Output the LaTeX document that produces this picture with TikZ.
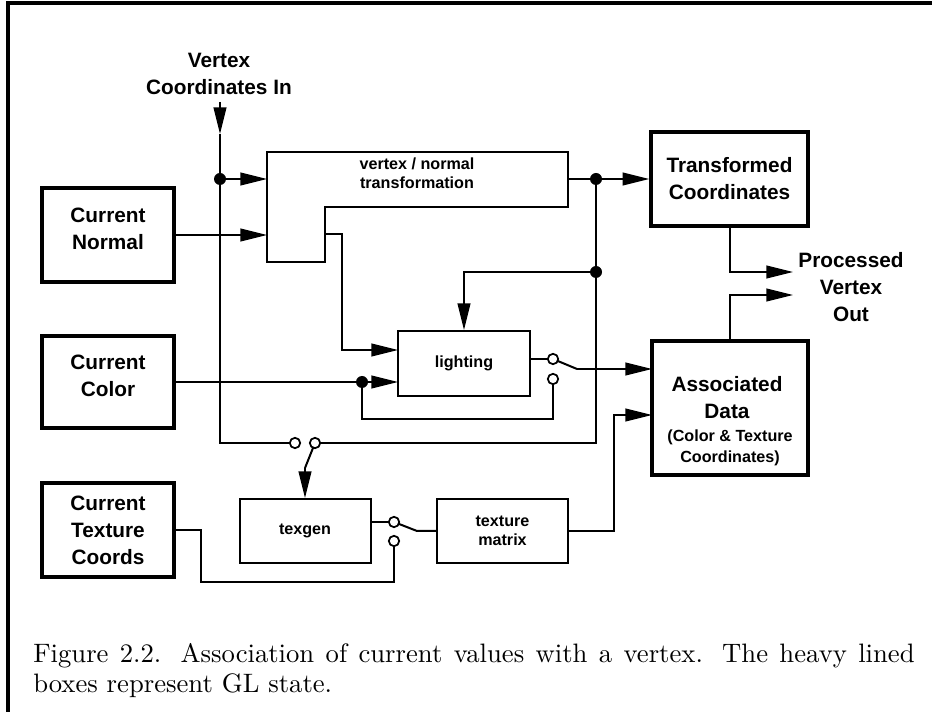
\documentclass[tikz,border=0pt]{standalone}
\usepackage{fontspec}
\newfontfamily\hv{Liberation Sans}
\newfontfamily\capfont{lmroman10-regular}[Extension=.otf]
\usetikzlibrary{arrows.meta}
\tikzset{
 big/.style={font=\hv\bfseries\fontsize{15.6pt}{20.25pt}\selectfont, align=center, inner sep=0pt},
 small/.style={font=\hv\bfseries\fontsize{12.1pt}{14.5pt}\selectfont, align=center, inner sep=0pt},
 smallwide/.style={font=\hv\bfseries\fontsize{12.1pt}{15.75pt}\selectfont, align=center, inner sep=0pt},
 state/.style={draw, line width=2.5pt, inner sep=0pt},
 proc/.style={draw, line width=1.5pt, inner sep=0pt, small},
 wire/.style={line width=1.5pt},
 arr/.style={wire, -{Triangle[length=20pt,width=9.5pt]}},
 dot/.style={circle, fill=black, inner sep=0pt, minimum size=9pt},
 term/.style={circle, draw, fill=white, line width=1.3pt, inner sep=0pt, minimum size=7.8pt},
}
\begin{document}
\begin{tikzpicture}[x=0.75pt,y=-0.75pt]
\useasboundingbox (0,0) rectangle (932,712);
\draw[line width=2.3pt] (8,712) -- (8,3) -- (932,3);

% state boxes
\node[state, minimum width=99pt, minimum height=70.5pt] (normal) at (108,235) {};
\node[big] (normalL) at (108,228.5) {Current\\Normal};
\node[state, minimum width=99pt, minimum height=69pt] (color) at (108,382) {};
\node[big] (colorL) at (108,376) {Current\\Color};
\node[state, big, minimum width=99pt, minimum height=70.5pt] (texc) at (108,530) {Current\\Texture\\Coords};
\node[state, big, minimum width=117.75pt, minimum height=70.5pt] (tcoord) at (729.5,179) {Transformed\\Coordinates};
\node[state, minimum width=117pt, minimum height=100.5pt] (assoc) at (730,408) {};
\node[big] (assocA) at (727,398) {Associated\\Data};
\node[smallwide] (assocB) at (730,447.5) {(Color \& Texture\\Coordinates)};

% processing boxes
\draw[wire] (267,152) -- (568,152) -- (568,207) -- (325,207) -- (325,262) -- (267,262) -- cycle;
\node[small] (xflabel) at (417,173) {vertex / normal\\transformation};
\node[proc, minimum width=99pt, minimum height=48.75pt] (light) at (464,363.5) {lighting};
\node[proc, minimum width=98.25pt, minimum height=48pt] (texgen) at (305,531) {texgen};
\node[proc, minimum width=98.25pt, minimum height=48pt] (texmat) at (502.5,531) {texture\\matrix};

\node[big] (vlabel) at (219,74) {Vertex\\Coordinates In};
\node[big] (plabel) at (851,287) {Processed\\Vertex\\Out};

% points
\coordinate (vin) at (220,102);
\coordinate (vtip) at (220,134);
\coordinate (xfin1) at (267,179);
\coordinate (xfin2) at (267,235);
\coordinate (xfout1) at (568,179);
\coordinate (xfout2) at (325,234);
\coordinate (bend1) at (342,234);
\coordinate (lin1) at (398,350);
\coordinate (pout1) at (793,272);
\coordinate (pout2) at (793,295);
\coordinate (lin2) at (398,382);
\coordinate (lout) at (530,359);
\coordinate (blade2) at (577,369);
\coordinate (ain1) at (652,369);
\coordinate (c419) at (362,419);
\coordinate (blade1) at (305,468);
\coordinate (tgout) at (370,522);
\coordinate (blade3) at (417,531);
\coordinate (tcb1) at (201,530);
\coordinate (tcb2) at (201,582);
\coordinate (tmb) at (614,531);
\coordinate (ain2) at (652,415);
\coordinate (pj1) at (220,179);
\coordinate (pj2) at (596,179);
\coordinate (pj3) at (596,272);
\coordinate (pj4) at (362,382);
\coordinate (ps1a) at (295,443);
\coordinate (ps1b) at (315,443);
\coordinate (ps2a) at (553,359);
\coordinate (ps2b) at (553,379);
\coordinate (ps3a) at (394,522);
\coordinate (ps3b) at (394,541);

% wires
\draw[arr] (vin) -- (vtip);
\draw[wire] (vtip) -- (pj1) |- (ps1a);
\draw[arr] (pj1) -- (xfin1);
\draw[arr] (normal.east) -- (xfin2);
\draw[arr] (xfout2) -- (bend1) |- (lin1);
\draw[wire] (xfout1) -- (pj2);
\draw[arr] (pj2) -- (tcoord.west);
\draw[wire] (pj2) -- (pj3) |- (ps1b);
\draw[arr] (pj3) -| (light.north);
\draw[arr] (tcoord.south) |- (pout1);
\draw[arr] (assoc.north) |- (pout2);
\draw[wire] (color.east) -- (pj4);
\draw[arr] (pj4) -- (lin2);
\draw[wire] (lout) -- (ps2a);
\draw[wire] (ps2a) -- (blade2);
\draw[arr] (blade2) -- (ain1);
\draw[wire] (ps2b) |- (c419) -- (pj4);
\draw[wire] (ps1b) -- (blade1);
\draw[arr] (blade1) -- (texgen.north);
\draw[wire] (tgout) -- (ps3a);
\draw[wire] (ps3a) -- (blade3) -- (texmat.west);
\draw[wire] (texc.east) -- (tcb1) -- (tcb2) -| (ps3b);
\draw[arr] (texmat.east) -- (tmb) |- (ain2);

% junction dots and terminals
\node[dot] (j1) at (pj1) {};
\node[dot] (j2) at (pj2) {};
\node[dot] (j3) at (pj3) {};
\node[dot] (j4) at (pj4) {};
\node[term] (s1a) at (ps1a) {};
\node[term] (s1b) at (ps1b) {};
\node[term] (s2a) at (ps2a) {};
\node[term] (s2b) at (ps2b) {};
\node[term] (s3a) at (ps3a) {};
\node[term] (s3b) at (ps3b) {};

% caption
\node[anchor=north west, inner sep=0pt, text width=661pt, align=justify, font=\capfont\fontsize{20pt}{22.5pt}\selectfont] (caption) at (33,643.5) {Figure 2.2. Association of current values with a vertex. The heavy lined\linebreak boxes represent GL state.};
\end{tikzpicture}
\end{document}
